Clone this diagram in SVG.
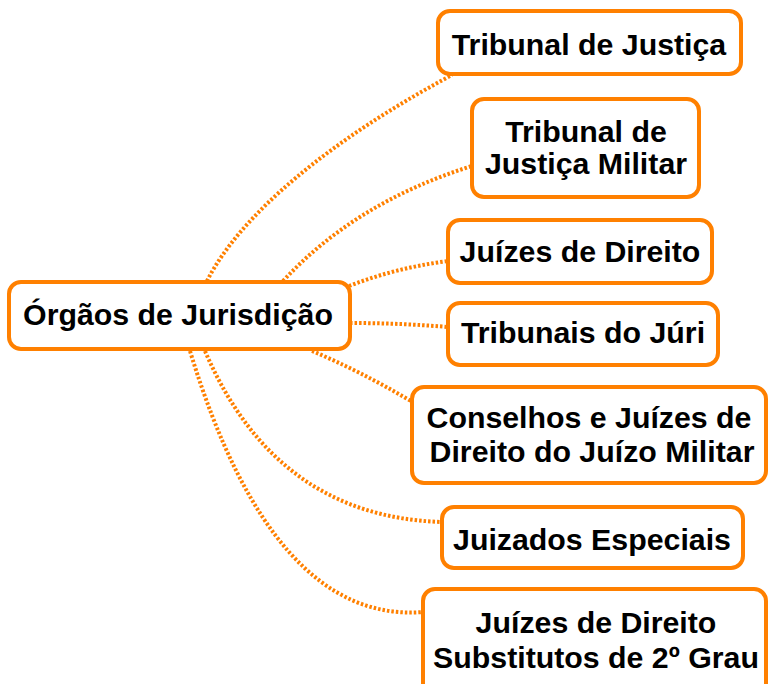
<svg xmlns="http://www.w3.org/2000/svg" width="769" height="684" viewBox="0 0 769 684">
<style>
.box{fill:#ffffff;stroke:#ff8000;stroke-width:4}
.t{font-family:"Liberation Sans",Arial,sans-serif;font-weight:bold;font-size:30.3px;fill:#000;text-anchor:middle}
.c{fill:none;stroke:#ff8000;stroke-width:4;stroke-dasharray:2.5 2}
</style>
<rect width="769" height="684" fill="#ffffff"/>
<g id="connectors">
<path class="c" d="M207,281 C240,215 330,140 452,75"/>
<path class="c" d="M283,281 Q356,202 472,166"/>
<path class="c" d="M349,286 Q395,268 448,261"/>
<path class="c" d="M350,323 Q400,323 448,327"/>
<path class="c" d="M312,351 Q358,370 411,401"/>
<path class="c" d="M205,351 Q276,517 442,522"/>
<path class="c" d="M190,351 Q273,624 423,612"/>
</g>
<g id="n0">
<rect class="box" x="9" y="282" width="341" height="67" rx="12"/>
<text class="t" x="178" y="325">Órgãos de Jurisdição</text>
</g>
<g id="n1">
<rect class="box" x="438" y="11" width="303" height="63" rx="12"/>
<text class="t" x="589" y="55">Tribunal de Justiça</text>
</g>
<g id="n2">
<rect class="box" x="472" y="99" width="227" height="98" rx="12"/>
<text class="t" x="586" y="142">Tribunal de</text>
<text class="t" x="586" y="174">Justiça Militar</text>
</g>
<g id="n3">
<rect class="box" x="448" y="220" width="264" height="63" rx="12"/>
<text class="t" x="580" y="262">Juízes de Direito</text>
</g>
<g id="n4">
<rect class="box" x="448" y="303" width="270" height="62" rx="12"/>
<text class="t" x="583" y="343">Tribunais do Júri</text>
</g>
<g id="n5">
<rect class="box" x="412" y="387" width="354" height="96" rx="12"/>
<text class="t" x="589" y="428">Conselhos e Juízes de</text>
<text class="t" x="592" y="462">Direito do Juízo Militar</text>
</g>
<g id="n6">
<rect class="box" x="442" y="507" width="301" height="61" rx="12"/>
<text class="t" x="592" y="550">Juizados Especiais</text>
</g>
<g id="n7">
<rect class="box" x="423" y="589" width="343" height="110" rx="12"/>
<text class="t" x="596" y="633">Juízes de Direito</text>
<text class="t" x="596" y="668">Substitutos de 2º Grau</text>
</g>
</svg>
